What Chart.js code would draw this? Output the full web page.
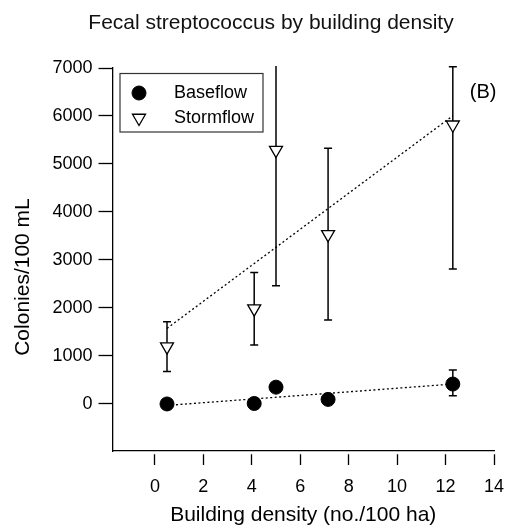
<!DOCTYPE html>
<html lang="en">
<head>
    <meta charset="UTF-8">
    <title>Fecal streptococcus by building density</title>
    <script src="https://cdn.jsdelivr.net/npm/chart.js"></script>
    <style>
        body { margin: 0; background: #fff; }
        #wrap { width: 508px; height: 527px; }
    </style>
</head>
<body>
<div id="wrap"><canvas id="fecalChart"></canvas></div>
<script>
// building density of the sampled catchments (no./100 ha)
const density = [0.5, 4.1, 5.0, 7.15, 12.3];

// baseflow colonies/100 mL, only the last site shows an error bar
const baseflow = [0, 10, 350, 95, 415];
const baseLow = [null, null, null, null, 173];
const baseHigh = [null, null, null, null, 708];

// stormflow colonies/100 mL with error bar ends
const stormflow = [1195, 1985, 5290, 3535, 5818];
const stormLow = [675, 1230, 2465, 1750, 2812];
const stormHigh = [1715, 2738, 8120, 5330, 7027];

// dotted fit lines, ends
const fitX = [0.5, 12.3];
const baseFit = [-30, 415];
const stormFit = [1575, 6005];

const xTicks = [0, 2, 4, 6, 8, 10, 12, 14];
const yTicks = [0, 1000, 2000, 3000, 4000, 5000, 6000, 7000];

const font = '"Liberation Sans", Arial, Helvetica, sans-serif';

const toPoints = (xs, ys) => xs.map((x, i) => ({ x: x, y: ys[i] }));

// vertical error bars with small caps, drawn under the markers
const errorBars = {
    id: 'errorBars',
    beforeDatasetsDraw(chart) {
        const { ctx, chartArea, scales } = chart;
        const sets = [[baseLow, baseHigh], [stormLow, stormHigh]];
        ctx.save();
        ctx.beginPath();
        // a little headroom so caps just above 7000 still show
        ctx.rect(chartArea.left, chartArea.top - 2, chartArea.right - chartArea.left, chartArea.bottom - chartArea.top + 2);
        ctx.clip();
        ctx.strokeStyle = '#000';
        ctx.lineWidth = 1.5;
        sets.forEach(([low, high]) => {
            density.forEach((d, i) => {
                if (low[i] === null) return;
                const x = scales.x.getPixelForValue(d);
                const y1 = scales.y.getPixelForValue(low[i]);
                const y2 = scales.y.getPixelForValue(high[i]);
                ctx.beginPath();
                ctx.moveTo(x, y1); ctx.lineTo(x, y2);
                ctx.moveTo(x - 4, y1); ctx.lineTo(x + 4, y1);
                ctx.moveTo(x - 4, y2); ctx.lineTo(x + 4, y2);
                ctx.stroke();
            });
        });
        ctx.restore();
    }
};

// boxed legend in the top left corner and the panel letter
const panelBits = {
    id: 'panelBits',
    afterDraw(chart) {
        const { ctx, chartArea, scales } = chart;
        const x = chartArea.left + 7.5;
        const y = chartArea.top + 5.5;
        ctx.save();
        ctx.strokeStyle = '#333';
        ctx.lineWidth = 1.2;
        ctx.strokeRect(x, y, 143, 58.5);
        [0, 1].forEach((i) => {
            const ds = chart.data.datasets[i];
            const cy = y + 19.5 + i * 25;
            ctx.fillStyle = ds.backgroundColor;
            ctx.strokeStyle = ds.borderColor;
            ctx.lineWidth = ds.borderWidth;
            Chart.helpers.drawPoint(ctx, {
                pointStyle: ds.pointStyle,
                radius: ds.pointRadius,
                rotation: ds.rotation || 0,
                borderWidth: ds.borderWidth
            }, x + 19, cy);
            ctx.fillStyle = '#000';
            ctx.font = '18px ' + font;
            ctx.textBaseline = 'middle';
            ctx.textAlign = 'left';
            ctx.fillText(ds.label, x + 54, cy);
        });
        ctx.font = '20px ' + font;
        ctx.fillStyle = '#000';
        ctx.textBaseline = 'middle';
        ctx.fillText('(B)', scales.x.getPixelForValue(13.0), scales.y.getPixelForValue(6480));
        ctx.restore();
    }
};

new Chart(document.getElementById('fecalChart'), {
    type: 'scatter',
    data: {
        datasets: [{
            label: 'Baseflow',
            data: toPoints(density, baseflow),
            pointStyle: 'circle',
            pointRadius: 7,
            pointHoverRadius: 7,
            backgroundColor: '#000',
            borderColor: '#000',
            borderWidth: 1,
            order: 1
        }, {
            label: 'Stormflow',
            data: toPoints(density, stormflow),
            pointStyle: 'triangle',
            rotation: 180,
            pointRadius: 7.5,
            pointHoverRadius: 7.5,
            backgroundColor: '#fff',
            borderColor: '#000',
            borderWidth: 1.3,
            order: 1
        }, {
            type: 'line',
            label: 'Baseflow fit',
            data: toPoints(fitX, baseFit),
            showLine: true,
            borderColor: '#000',
            borderWidth: 1.3,
            borderDash: [2, 2.5],
            pointRadius: 0,
            fill: false,
            order: 3
        }, {
            type: 'line',
            label: 'Stormflow fit',
            data: toPoints(fitX, stormFit),
            showLine: true,
            borderColor: '#000',
            borderWidth: 1.3,
            borderDash: [2, 2.5],
            pointRadius: 0,
            fill: false,
            order: 3
        }]
    },
    options: {
        responsive: true,
        maintainAspectRatio: false,
        animation: false,
        layout: { padding: { left: 48, right: 14, top: 0, bottom: 0 } },
        plugins: {
            legend: { display: false },
            tooltip: { enabled: false },
            title: {
                display: true,
                text: 'Fecal streptococcus by building density',
                color: '#111',
                font: { family: font, size: 21, weight: 'normal' },
                padding: { top: 10.4, bottom: 32.4 }
            }
        },
        scales: {
            x: {
                type: 'linear',
                min: -1.75,
                max: 14,
                afterBuildTicks: (scale) => { scale.ticks = xTicks.map((v) => ({ value: v })); },
                afterFit: (scale) => { scale.height = 76; scale.paddingLeft = 0; scale.paddingRight = 0; },
                border: { display: true, color: '#000', width: 1.3 },
                grid: {
                    drawOnChartArea: false,
                    drawTicks: true,
                    tickLength: 14,
                    tickColor: '#000',
                    tickWidth: 1.3,
                    tickBorderDash: [0, 3, 11]
                },
                ticks: { color: '#000', padding: 11, font: { family: font, size: 18 }, callback: (v) => String(v) },
                title: {
                    display: true,
                    text: 'Building density (no./100 ha)',
                    color: '#000',
                    font: { family: font, size: 21 },
                    padding: { top: 0, bottom: -1 }
                }
            },
            y: {
                type: 'linear',
                min: -980,
                max: 7000,
                afterBuildTicks: (scale) => { scale.ticks = yTicks.map((v) => ({ value: v })); },
                afterFit: (scale) => { scale.width = 64.5; },
                border: { display: true, color: '#000', width: 1.3 },
                grid: {
                    drawOnChartArea: false,
                    drawTicks: true,
                    tickLength: 14,
                    tickColor: '#000',
                    tickWidth: 1.3
                },
                ticks: { color: '#000', padding: 6, font: { family: font, size: 18 }, callback: (v) => String(v) },
                title: {
                    display: true,
                    // trailing spaces nudge the centred label a bit lower, as in the original
                    text: 'Colonies/100 mL      ',
                    color: '#000',
                    font: { family: font, size: 21 },
                    padding: { top: -37, bottom: 0 }
                }
            }
        }
    },
    plugins: [errorBars, panelBits]
});
</script>
</body>
</html>
